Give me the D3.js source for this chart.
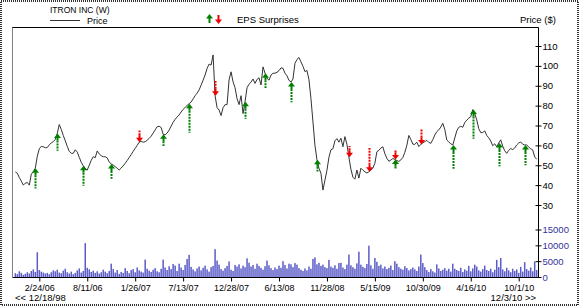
<!DOCTYPE html>
<html>
<head>
<meta charset="utf-8">
<script src="https://cdn.jsdelivr.net/npm/d3@7"></script>
<style>
  body { margin: 0; background: #fff; }
  svg { display: block; font-family: "Liberation Sans", Arial, sans-serif; }
</style>
</head>
<body>
<svg width="580" height="307"></svg>
<script>
(function() {
  'use strict';

  // weekly closes, first week ending 12/2/05
  const firstWeek = '12/2/05';
  const prices = [
    46.6, 46, 43.8, 42, 40, 41, 41.3, 40, 45.5, 46.8, 48.5, 54.5, 58.3,
    59.5, 59.3, 58.8, 58.9, 60.3, 61.2, 61.9, 63, 66, 70.5, 68, 65, 62.3,
    59.5, 57, 56, 56, 57.8, 56.6, 54, 51.5, 49.8, 48.4, 47.6, 50, 52.5,
    54.3, 53.8, 57.2, 55.7, 54.8, 54.3, 54.3, 53.7, 51.7, 50.6, 50.1, 49.3, 48.5,
    47.6, 48.6, 49.7, 51, 52.4, 53.9, 55.4, 57, 58.5, 60, 61.6, 62, 61.6,
    61.8, 62.6, 63.5, 64.6, 66.2, 67.8, 69.4, 69.6, 69, 65.6, 65.3, 66.2, 67.7,
    69.7, 71.6, 73.1, 74.3, 75.3, 76.8, 78.1, 79.1, 80.1, 81, 81.8, 83.4, 85,
    86.3, 87.9, 90.3, 92.8, 95.4, 98.7, 100.9, 100.4, 105.5, 85, 79, 77.8, 75,
    79, 80.5, 80.5, 93, 97, 92, 89, 83.5, 80.5, 85, 76, 82, 89,
    90.8, 91.8, 93.4, 91.2, 93.2, 94, 90.4, 99.5, 96.3, 93.8, 92.8, 95.4, 96.3,
    96.3, 96.8, 97.6, 99, 98.8, 96.3, 95, 92.7, 91.9, 93.4, 101.3, 103.2, 104.2,
    102, 99.8, 97.1, 97.7, 93, 83.5, 71.8, 60, 52.8, 48.5, 46, 37.5, 42.5,
    47.5, 54, 57.8, 58.3, 62.3, 63.4, 61.6, 63.6, 59.3, 64.4, 60.6, 54, 48,
    44, 43, 47.6, 43.5, 48.5, 47.5, 46.7, 46.1, 46.7, 47.6, 48.6, 51, 56.8,
    57.5, 58.7, 59.3, 55.8, 53.5, 52, 52.6, 53.4, 52.9, 52.4, 51.9, 52.7, 53.9,
    56.5, 60, 65, 63, 60.6, 60.5, 61.6, 59.4, 60.5, 61.3, 61.9, 62.5, 61.5,
    61, 62.9, 65.2, 66.9, 67.8, 69.2, 71.1, 68, 62.7, 61.7, 60.8, 60.2, 63.7,
    67.3, 69.1, 69.6, 69.1, 71.5, 72.7, 73.7, 74.4, 78, 76, 72.8, 68.4, 66.4,
    66.5, 67.3, 65, 63.8, 62.2, 59.8, 60.8, 59.3, 61.2, 62.8, 59.6, 57.3, 56,
    57.5, 58.4, 57.9, 58.7, 60.2, 61.2, 61.7, 60.6, 60.2, 60.2, 59.2, 58.3, 57.7,
    54.2, 53,
  ];
  const volumes = [
    1200, 900, 1800, 1300, 700, 1000, 1500, 1100, 1900, 2400, 1600, 7800, 2200,
    1700, 1400, 1100, 1300, 900, 1500, 2100, 1800, 2300, 1400, 1200, 2000, 2600,
    1500, 1100, 1700, 900, 1300, 2100, 2700, 1400, 1900, 10700, 2900, 2400, 1600,
    2000, 1300, 1800, 1100, 1500, 2300, 1700, 1200, 1900, 4200, 2500, 1400, 2200,
    1000, 1600, 1300, 2800, 1900, 1200, 2200, 2500, 1500, 3000, 2100, 1700, 1400,
    5500, 2600, 2000, 1600, 2300, 2800, 1800, 1500, 2600, 5500, 3000, 2200, 3400,
    2500, 4100, 3600, 1900, 4200, 3000, 2200, 3800, 5700, 7000, 3200, 2400, 1800,
    2700, 3300, 2100, 2900, 3600, 2400, 1700, 3100, 3500, 8800, 5200, 3900, 2500,
    2000, 2800, 3500, 4900, 2300, 1900, 3800, 3300, 4000, 2700, 3600, 3100, 5900,
    4500, 3300, 3800, 2600, 4200, 3500, 2900, 2300, 3400, 5200, 3700, 2800, 2200,
    3000, 2500, 3600, 2900, 5000, 3800, 2700, 4200, 4000, 3100, 4400, 3900, 2800,
    2300, 1900, 2700, 2100, 3300, 2600, 5700, 6200, 4000, 4500, 3500, 3900, 3100,
    2800, 5400, 3300, 2900, 3700, 2600, 4400, 4500, 3000, 2500, 3900, 7100, 3700,
    3100, 2600, 4300, 8000, 3900, 3200, 2800, 4100, 9900, 3700, 2600, 6000, 4800,
    3500, 3900, 2700, 3300, 2500, 2900, 3600, 2200, 5000, 4200, 3100, 2600, 2300,
    3400, 2800, 2100, 2500, 3000, 2400, 1900, 3300, 7100, 4400, 3100, 2200, 1600,
    2500, 1800, 1400, 4000, 2700, 1900, 2300, 2800, 2000, 2600, 1700, 4200, 2600,
    2200, 1900, 2900, 1600, 2400, 2000, 3500, 1800, 2700, 3900, 3300, 2100, 1700,
    2500, 3600, 2200, 1900, 2600, 1500, 2300, 5400, 3100, 6000, 2400, 1800, 2900,
    2100, 1500, 2600, 1900, 2400, 1300, 3200, 1700, 4700, 2500, 2000, 3000, 1800,
    4900, 2200,
  ];

  const dateTicks = ['2/24/06', '8/11/06', '1/26/07', '7/13/07', '12/28/07', '6/13/08',
    '11/28/08', '5/15/09', '10/30/09', '4/16/10', '10/1/10'];
  const priceTicks = [30, 40, 50, 60, 70, 80, 90, 100, 110];
  const volumeTicks = [0, 5000, 10000, 15000];

  // EPS surprises: report week, direction, size of surprise (%)
  const epsDates = ['2/10/06', '4/28/06', '7/28/06', '11/3/06', '2/9/07', '5/4/07', '8/3/07',
    '11/2/07', '2/15/08', '4/25/08', '7/25/08', '10/24/08', '2/13/09', '4/24/09', '7/24/09',
    '7/24/09', '10/23/09', '2/12/10', '4/23/10', '7/23/10', '10/22/10'];
  const epsDirs = ['up', 'up', 'up', 'up', 'down', 'up', 'up', 'down', 'up', 'up', 'up', 'up',
    'down', 'down', 'down', 'up', 'down', 'up', 'up', 'up', 'up'];
  const epsSurprise = [22, 17, 22, 13, 8, 8, 37, 13, 17, 13, 22, 8, 7, 28, 5, 5, 15, 28, 37, 27, 22];

  const parse = d3.timeParse('%m/%d/%y');
  const start = parse(firstWeek);
  const dates = prices.map((p, i) => d3.timeDay.offset(start, i * 7));

  const plot = {left: 12.5, top: 27.5, right: 538.5, bottom: 277.5};
  const green = '#008000';
  const red = '#ee0000';
  const volColor = '#5c5cc8';

  const svg = d3.select('svg');

  const x = d3.scaleTime()
      .domain([parse('2/24/06'), parse('10/1/10')])
      .range([39.3, 518.7]);

  const yPrice = d3.scaleLinear()
      .domain([30, 110])
      .range([205, 46]);

  const yVol = d3.scaleLinear()
      .domain([0, 15000])
      .range([277, 229.5]);

  const stem = d3.scaleLinear()
      .domain([0, 100])
      .range([0, 60]);

  // outer dotted frame
  svg.append('rect')
      .attr('x', 1).attr('y', 1)
      .attr('width', 577).attr('height', 304)
      .attr('fill', 'none')
      .attr('stroke', '#333')
      .attr('stroke-width', 2)
      .attr('stroke-dasharray', '1,1');

  // volume bars
  svg.append('g')
      .selectAll('rect')
      .data(volumes)
      .join('rect')
      .attr('x', (d, i) => x(dates[i]) - 0.75)
      .attr('width', 1.5)
      .attr('y', (d) => yVol(d))
      .attr('height', (d) => yVol(0) - yVol(d))
      .attr('fill', volColor);

  // price line
  const line = d3.line()
      .x((d, i) => x(dates[i]))
      .y((d) => yPrice(d));

  svg.append('path')
      .datum(prices)
      .attr('d', line)
      .attr('fill', 'none')
      .attr('stroke', '#333')
      .attr('stroke-width', 1);

  // plot frame
  svg.append('path')
      .attr('d', 'M' + plot.left + ',' + plot.top + 'H' + plot.right +
        'V' + plot.bottom + 'H' + plot.left)
      .attr('fill', 'none')
      .attr('stroke', '#000');
  svg.append('line')
      .attr('x1', plot.left).attr('x2', plot.left)
      .attr('y1', plot.top).attr('y2', plot.bottom)
      .attr('stroke', '#000')
      .attr('stroke-dasharray', '1,1');

  function arrow(g, cx, tip, dir, len, color) {
    const s = dir === 'up' ? 1 : -1;
    g.append('path')
        .attr('d', 'M' + cx + ',' + tip + 'L' + (cx + 3.5) + ',' + (tip + s * 4.5) +
          'L' + (cx - 3.5) + ',' + (tip + s * 4.5) + 'Z')
        .attr('fill', color);
    g.append('line')
        .attr('x1', cx).attr('x2', cx)
        .attr('y1', tip + s * 4).attr('y2', tip + s * 7)
        .attr('stroke', color)
        .attr('stroke-width', 2);
    if (len > 0) {
      g.append('line')
          .attr('x1', cx).attr('x2', cx)
          .attr('y1', tip + s * 7).attr('y2', tip + s * (7 + len))
          .attr('stroke', color)
          .attr('stroke-width', 2)
          .attr('stroke-dasharray', '2,1');
    }
  }

  // EPS surprise arrows
  const eps = svg.append('g');
  epsDates.forEach((ds, j) => {
    const d = parse(ds);
    const i = d3.minIndex(dates, (w) => Math.abs(w - d));
    const cx = Math.round(x(dates[i])) + 0.5;
    const tip = yPrice(prices[i]);
    arrow(eps, cx, tip, epsDirs[j], stem(epsSurprise[j]), epsDirs[j] === 'up' ? green : red);
  });

  // bottom date axis
  svg.append('g')
      .attr('transform', 'translate(0,' + plot.bottom + ')')
      .call(d3.axisBottom(x)
          .tickValues(dateTicks.map(parse))
          .tickFormat((d, i) => dateTicks[i])
          .tickSizeInner(4)
          .tickSizeOuter(0)
          .tickPadding(3))
      .call((g) => g.select('.domain').remove())
      .call((g) => g.selectAll('text')
          .attr('font-family', '"Liberation Sans", Arial, sans-serif')
          .attr('font-size', 9)
          .attr('fill', '#000'));

  // right price axis
  svg.append('g')
      .attr('transform', 'translate(' + plot.right + ',0)')
      .call(d3.axisRight(yPrice)
          .tickValues(priceTicks)
          .tickSizeInner(3)
          .tickSizeOuter(0)
          .tickPadding(1))
      .call((g) => g.select('.domain').remove())
      .call((g) => g.selectAll('.tick line').attr('x1', -3))
      .call((g) => g.selectAll('text')
          .attr('font-family', '"Liberation Sans", Arial, sans-serif')
          .attr('font-size', 9.5)
          .attr('fill', '#000'));

  // right volume axis
  svg.append('g')
      .attr('transform', 'translate(' + plot.right + ',0)')
      .call(d3.axisRight(yVol)
          .tickValues(volumeTicks)
          .tickFormat(d3.format('d'))
          .tickSizeInner(3)
          .tickSizeOuter(0)
          .tickPadding(1))
      .call((g) => g.select('.domain').remove())
      .call((g) => g.selectAll('.tick line').attr('x1', -3))
      .call((g) => g.selectAll('text')
          .attr('font-family', '"Liberation Sans", Arial, sans-serif')
          .attr('font-size', 9.5)
          .attr('fill', '#33339a'));

  const text = (tx, ty, str, anchor, size) => svg.append('text')
      .attr('x', tx).attr('y', ty)
      .attr('font-size', size || 9.5)
      .attr('text-anchor', anchor || 'start')
      .text(str);

  // range labels under the axis
  text(15, 301, '<< 12/18/98');
  text(536, 301, '12/3/10 >>', 'end');

  // legend
  text(50, 13, 'ITRON INC (W)', 'start', 8.5);
  svg.append('line')
      .attr('x1', 50).attr('x2', 80)
      .attr('y1', 20.5).attr('y2', 20.5)
      .attr('stroke', '#333');
  text(87, 23.5, 'Price', 'start', 9);
  const leg = svg.append('g');
  arrow(leg, 209.5, 14, 'up', 3, green);
  arrow(leg, 218.5, 24, 'down', 3, red);
  text(237, 23, 'EPS Surprises');
  text(520, 23, 'Price ($)');
})();
</script>
</body>
</html>
